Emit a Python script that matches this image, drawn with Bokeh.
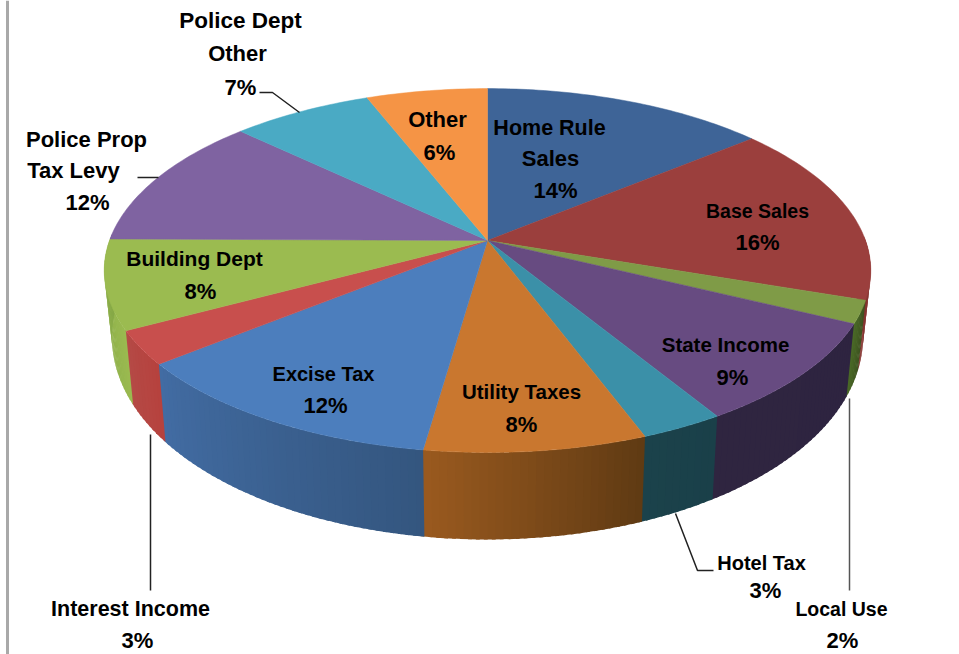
import numpy as np
from bokeh.core.properties import value
from bokeh.embed import file_html
from bokeh.models import Range1d
from bokeh.plotting import figure
from bokeh.resources import INLINE

# Revenue shares in percent, clockwise from twelve o'clock
categories = ["Home Rule Sales", "Base Sales", "Local Use", "State Income", "Hotel Tax",
              "Utility Taxes", "Excise Tax", "Interest Income", "Building Dept",
              "Police Prop Tax Levy", "Police Dept Other", "Other"]
shares = [14, 16, 2, 9, 3, 8, 12, 3, 8, 12, 7, 6]

top_colors = ["#3e6497", "#9b3f3d", "#7f9b47", "#674b81", "#3b90a8", "#c9772f",
              "#4c7ebd", "#c84f4d", "#9bbb50", "#7f63a1", "#4aaac4", "#f59445"]
# Wall shading at the start and end of each slice's outer edge
wall_start = ["#30507a", "#7c3230", "#3c5020", "#2e2440", "#1a4049", "#5f3a13",
              "#34567f", "#b6423e", "#9aba50", "#664f82", "#3b8a9e", "#c47535"]
wall_end = ["#30507a", "#86332f", "#4a6a26", "#2f2540", "#1b424b", "#9a5a1f",
            "#426ca3", "#b54a46", "#82a545", "#664f82", "#3b8a9e", "#c47535"]

# Label lines: text, centre x, centre y
label_text = ["Police Dept", "Other", "7%", "Police Prop", "Tax Levy", "12%", "Other", "6%",
              "Home Rule", "Sales", "14%", "Base Sales", "16%", "Building Dept", "8%",
              "State Income", "9%", "Utility Taxes", "8%", "Excise Tax", "12%",
              "Hotel Tax", "3%", "Interest Income", "3%", "Local Use", "2%"]
label_x = [240, 237, 240, 86, 73, 87, 437, 439, 549, 550, 555, 757, 757, 194, 200,
           725, 732, 521, 521, 323, 325, 761, 765, 130, 137, 841, 842]
label_y = [20, 53, 87, 139, 170, 202, 119, 152, 127, 158, 190, 210, 242, 258, 291,
           344, 377, 391, 424, 373, 405, 562, 590, 608, 640, 608, 640]
label_px = [22.5, 22, 22, 22, 22, 22, 22, 22, 21.5, 22, 22, 19.5, 22, 21, 22,
            20.5, 22, 20.5, 22, 20, 22, 20, 22, 21.5, 22, 19.5, 22]

leader_xs = [[259, 272, 299], [137, 158], [150, 150], [675, 697, 713], [849, 849]]
leader_ys = [[92, 92, 112], [177, 177], [434, 590], [513, 570, 570], [398, 590]]
leader_colors = ["#222222", "#222222", "#222222", "#222222", "#555555"]

# Perspective projection of the pie's disc
CX, CY, A, B, K = 487.0, 240.0, 378.0, 177.0, 0.165


def top_point(deg):
    # Foreshortening drags the front edge slightly clockwise
    t = np.radians(deg + 1.0 * np.sin(np.radians(deg) / 2) ** 2)
    s, c = np.sin(t), np.cos(t)
    w = 1 + K * c
    return CX + A * s / w, CY - B * c / w


def bottom_point(deg):
    x, y = top_point(deg)
    return CX + (x - CX) * 0.98, y + 62 - 25 * np.cos(np.radians(deg))


def mix(c1, c2, f):
    a = [int(c1[i:i + 2], 16) for i in (1, 3, 5)]
    b = [int(c2[i:i + 2], 16) for i in (1, 3, 5)]
    return "#%02x%02x%02x" % tuple(round(u + (v - u) * f) for u, v in zip(a, b))


edges = np.concatenate([[0], np.cumsum(shares)]) / sum(shares) * 360.0

p = figure(width=959, height=654, x_range=Range1d(0, 959), y_range=Range1d(654, 0),
           output_backend="svg", toolbar_location=None, min_border=0, outline_line_color=None)
p.axis.visible = False
p.grid.visible = False

# Grey rule down the left side of the page
p.line([7, 7], [0, 654], line_color="#a9a9a9", line_width=3)

# Outer wall of the front half: thin shaded strips, each overlapping the next
wall_xs, wall_ys, wall_cols = [], [], []
for i in range(len(shares)):
    lo, hi = max(edges[i], 88.0), min(edges[i + 1], 272.0)
    if hi <= lo:
        continue
    steps = max(2, int(hi - lo))
    ts = np.linspace(lo, hi, steps + 1)
    for j in range(steps):
        a0, a1 = ts[j], min(ts[j + 1] + 0.5, 272.0)
        x0, y0 = top_point(a0)
        x1, y1 = top_point(a1)
        x2, y2 = bottom_point(a1)
        x3, y3 = bottom_point(a0)
        wall_xs.append([x0, x1, x2, x3])
        wall_ys.append([y0, y1, y2, y3])
        wall_cols.append(mix(wall_start[i], wall_end[i], (j + 0.5) / steps))
p.patches(wall_xs, wall_ys, fill_color=wall_cols, line_color=None)

# Top face of every slice
top_xs, top_ys = [], []
for i in range(len(shares)):
    ts = np.linspace(edges[i], edges[i + 1], max(3, int(edges[i + 1] - edges[i]) + 1))
    px, py = top_point(ts)
    top_xs.append([CX] + list(px))
    top_ys.append([CY] + list(py))
p.patches(top_xs, top_ys, fill_color=top_colors, line_color=top_colors, line_width=0.5)

p.multi_line(leader_xs, leader_ys, line_color=leader_colors, line_width=1.5)

p.text(label_x, label_y, text=label_text, text_align="center", text_baseline="middle",
       text_font=value("Liberation Sans"), text_font_style="bold",
       text_font_size=[f"{s}px" for s in label_px], text_color="#000000")

open("out.html", "w").write(file_html(p, INLINE))
